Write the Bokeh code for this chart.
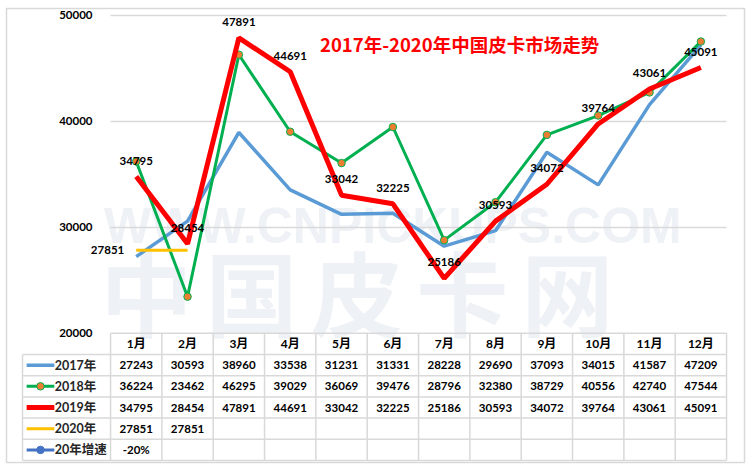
from bokeh.plotting import figure
from bokeh.models import FixedTicker, Range1d
from bokeh.core.properties import value
from bokeh.embed import file_html
from bokeh.resources import INLINE

# ---------------- data ----------------
months = ["1月", "2月", "3月", "4月", "5月", "6月", "7月", "8月", "9月", "10月", "11月", "12月"]
s2017 = [27243, 30593, 38960, 33538, 31231, 31331, 28228, 29690, 37093, 34015, 41587, 47209]
s2018 = [36224, 23462, 46295, 39029, 36069, 39476, 28796, 32380, 38729, 40556, 42740, 47544]
s2019 = [34795, 28454, 47891, 44691, 33042, 32225, 25186, 30593, 34072, 39764, 43061, 45091]
s2020 = [27851, 27851]
growth20 = ["-20%"]
series_names = ["2017年", "2018年", "2019年", "2020年", "20年增速"]
y_ticks = [20000, 30000, 40000, 50000]
title_text = "2017年-2020年中国皮卡市场走势"
watermark_url = "WWW.CNPICKUPS.COM"
watermark_cn = "中国皮卡网"

# ---------------- styles ----------------
C17, C18, C19, C20, CGR = "#5B9BD5", "#00B050", "#FF0000", "#FFC000", "#4472C4"
MARK = "#ED7D31"
GRID = "#D9D9D9"
NUMF = value("Lato, 'Noto Sans CJK SC', sans-serif")
CJKF = value("'Noto Sans CJK SC', sans-serif")

x = list(range(1, len(months) + 1))
ROW = 2000                     # table row height in value units
TOP = y_ticks[0]               # table top
LEFT = -1.215                  # left edge of the legend column

p = figure(width=750, height=469, output_backend="svg", toolbar_location=None,
           x_range=Range1d(-1.527, 12.85), y_range=Range1d(7810, 50660),
           min_border_left=6, min_border_right=6, min_border_top=8, min_border_bottom=7,
           background_fill_color="white", border_fill_color="white")
p.outline_line_color = GRID
p.outline_line_width = 1.5
p.xaxis.visible = False
p.xgrid.visible = False
p.ygrid.visible = False
p.yaxis.ticker = FixedTicker(ticks=y_ticks)
p.yaxis.fixed_location = 0.5
p.yaxis.axis_line_color = None
p.yaxis.major_tick_line_color = None
p.yaxis.minor_tick_line_color = None
p.yaxis.major_label_standoff = 12
p.yaxis.major_label_text_font = "Lato"
p.yaxis.major_label_text_font_style = "bold"
p.yaxis.major_label_text_font_size = "11.5px"
p.yaxis.major_label_text_color = "#000000"

# ---------- watermark ----------
p.text(x=[6.0], y=[30100], text=[watermark_url], text_font=value("Liberation Sans"),
       text_font_style="bold", text_font_size="50px", text_color="#EEF1F5",
       text_align="center", text_baseline="middle")
wm_x = [1.2 + i * 2.05 for i in range(len(watermark_cn))]
p.text(x=wm_x, y=[24100] * len(watermark_cn), text=list(watermark_cn), text_font=CJKF,
       text_font_style="bold", text_font_size="92px", text_color="#EEF1F5",
       text_align="center", text_baseline="middle")

# ---------- gridlines ----------
p.segment(x0=[0.5] * 3, x1=[12.5] * 3, y0=y_ticks[1:], y1=y_ticks[1:],
          line_color=GRID, line_width=1.5)

# ---------- series ----------
p.line(x, s2017, line_color=C17, line_width=3.5)
p.line(x, s2018, line_color=C18, line_width=3)
p.scatter(x, s2018, size=7.5, fill_color=MARK, line_color=C18, line_width=1)
p.line(x, s2019, line_color=C19, line_width=5)
p.line(x[:len(s2020)], s2020, line_color=C20, line_width=3)

# data labels
p.text(x, s2019, text=[str(v) for v in s2019], text_font=NUMF, text_font_style="bold",
       text_font_size="11.5px", text_color="black", text_align="center",
       text_baseline="middle", y_offset=-16)
p.text(x[:1], s2020[:1], text=[str(s2020[0])], text_font=NUMF, text_font_style="bold",
       text_font_size="11.5px", text_color="black", text_align="right",
       text_baseline="middle", x_offset=-12)

# title
p.text([7.3], [47350], text=[title_text], text_font=CJKF, text_font_style="bold",
       text_font_size="18.5px", text_color=C19, text_align="center", text_baseline="middle")

# ---------- data table ----------
n_rows = len(series_names)
bottom = TOP - ROW * (n_rows + 1)
hy = [TOP - ROW * k for k in range(1, n_rows + 2)]
p.segment(x0=[0.5], x1=[12.5], y0=[TOP], y1=[TOP], line_color=GRID, line_width=1.5)
p.segment(x0=[LEFT] * len(hy), x1=[12.5] * len(hy), y0=hy, y1=hy, line_color=GRID, line_width=1.5)
vx = [i + 0.5 for i in range(0, len(months) + 1)]
p.segment(x0=vx, x1=vx, y0=[TOP] * len(vx), y1=[bottom] * len(vx), line_color=GRID, line_width=1.5)
p.segment(x0=[LEFT], x1=[LEFT], y0=[TOP - ROW], y1=[bottom], line_color=GRID, line_width=1.5)

# header
p.text(x, [TOP - ROW / 2] * len(x), text=months, text_font=NUMF, text_font_style="bold",
       text_font_size="12px", text_color="black", text_align="center", text_baseline="middle")

rows = [s2017, s2018, s2019, s2020, growth20]
for r, vals in enumerate(rows):
    yc = TOP - ROW * (r + 1.5)
    p.text(x[:len(vals)], [yc] * len(vals), text=[str(v) for v in vals], text_font=NUMF,
           text_font_style="bold", text_font_size="11.5px", text_color="black",
           text_align="center", text_baseline="middle")

# legend column
colors = [C17, C18, C19, C20, CGR]
widths = [3.5, 3, 5, 3, 3]
sx0, sx1 = LEFT + 0.08, LEFT + 0.62
for r, name in enumerate(series_names):
    yc = TOP - ROW * (r + 1.5)
    p.line([sx0, sx1], [yc, yc], line_color=colors[r], line_width=widths[r])
    if r == 1:
        p.scatter([(sx0 + sx1) / 2], [yc], size=7.5, fill_color=MARK, line_color=C18)
    if r == 4:
        p.scatter([(sx0 + sx1) / 2], [yc], size=7.5, fill_color=CGR, line_color=CGR)
    p.text([sx1 + 0.01], [yc], text=[name], text_font=NUMF, text_font_style="bold",
           text_font_size="12.5px", text_color="#262626", text_align="left",
           text_baseline="middle")

open("out.html", "w").write(file_html(p, INLINE))
